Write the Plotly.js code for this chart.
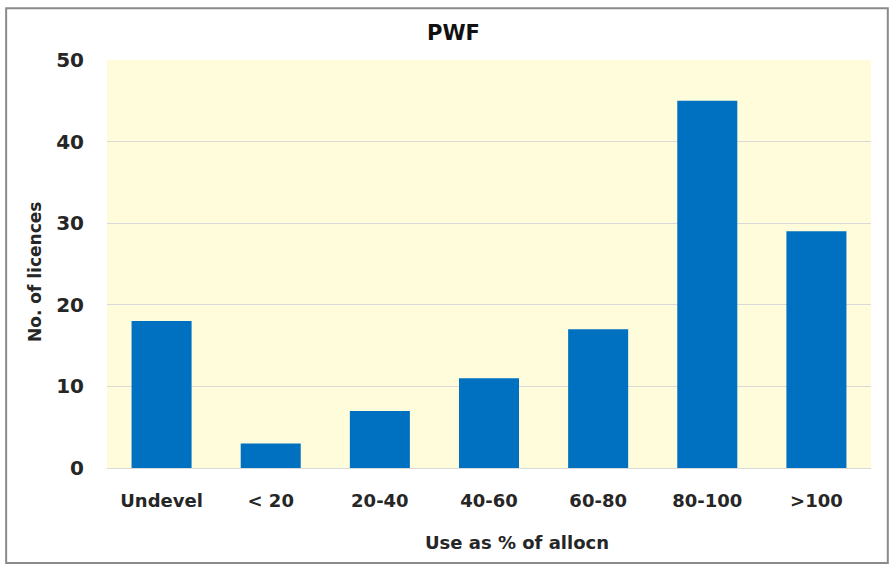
<!DOCTYPE html>
<html>
<head>
<meta charset="utf-8">
<script src="https://cdn.plot.ly/plotly-3.0.1.min.js"></script>
<style>html,body{margin:0;padding:0;background:#fff;}#chart{width:893px;height:564px;}</style>
</head>
<body>
<div id="chart"></div>
<script>
const categories = ["Undevel", "< 20", "20-40", "40-60", "60-80", "80-100", ">100"];
const licences = [18, 3, 7, 11, 17, 45, 29];
const yTicks = [0, 10, 20, 30, 40, 50];
const chartTitle = "PWF";
const xTitle = "Use as % of allocn";
const yTitle = "No. of licences";

const font = "DejaVu Sans, Arial, sans-serif";

const trace = {
  type: "bar",
  x: categories,
  y: licences,
  marker: {color: "#0070C0", line: {width: 0}},
  hoverinfo: "x+y"
};

const layout = {
  width: 893, height: 564,
  margin: {l: 107, r: 22, t: 60, b: 96},
  paper_bgcolor: "#ffffff",
  plot_bgcolor: "#FFFCDC",
  bargap: 0.45,
  showlegend: false,
  font: {family: font, color: "#222", size: 17},
  xaxis: {
    type: "category",
    showgrid: false,
    showline: true, linecolor: "#D9D9D9", linewidth: 1,
    ticks: "", ticklabelstandoff: 16,
    tickfont: {family: font, size: 18, color: "#262626", weight: "bold"}
  },
  yaxis: {
    range: [0, 50],
    tickvals: yTicks,
    showgrid: true, gridcolor: "#D9D9D9", gridwidth: 1,
    zeroline: false,
    showline: false,
    ticks: "", ticklabelstandoff: 22,
    tickfont: {family: font, size: 20, color: "#262626", weight: "bold"}
  },
  shapes: [
    {type: "rect", xref: "paper", yref: "paper", x0: -0.132, x1: 1.022, y0: -0.233, y1: 1.127,
     line: {color: "#8a8a8a", width: 2}, fillcolor: "rgba(0,0,0,0)", layer: "below"}
  ],
  annotations: [
    {text: chartTitle, xref: "paper", yref: "paper", x: (453-107)/764, y: (468-33)/408, xanchor: "center", yanchor: "middle",
     showarrow: false, font: {family: font, size: 21, color: "#111", weight: "bold"}},
    {text: xTitle, xref: "paper", yref: "paper", x: (517-107)/764, y: (468-542)/408, xanchor: "center", yanchor: "middle",
     showarrow: false, font: {family: font, size: 18, color: "#262626", weight: "bold"}},
    {text: yTitle, xref: "paper", yref: "paper", x: -(107-35)/764, y: (468-272)/408, xanchor: "center", yanchor: "middle",
     textangle: -90, showarrow: false, font: {family: font, size: 17, color: "#262626", weight: "bold"}}
  ]
};

Plotly.newPlot("chart", [trace], layout, {displayModeBar: false, staticPlot: true});
</script>
</body>
</html>
